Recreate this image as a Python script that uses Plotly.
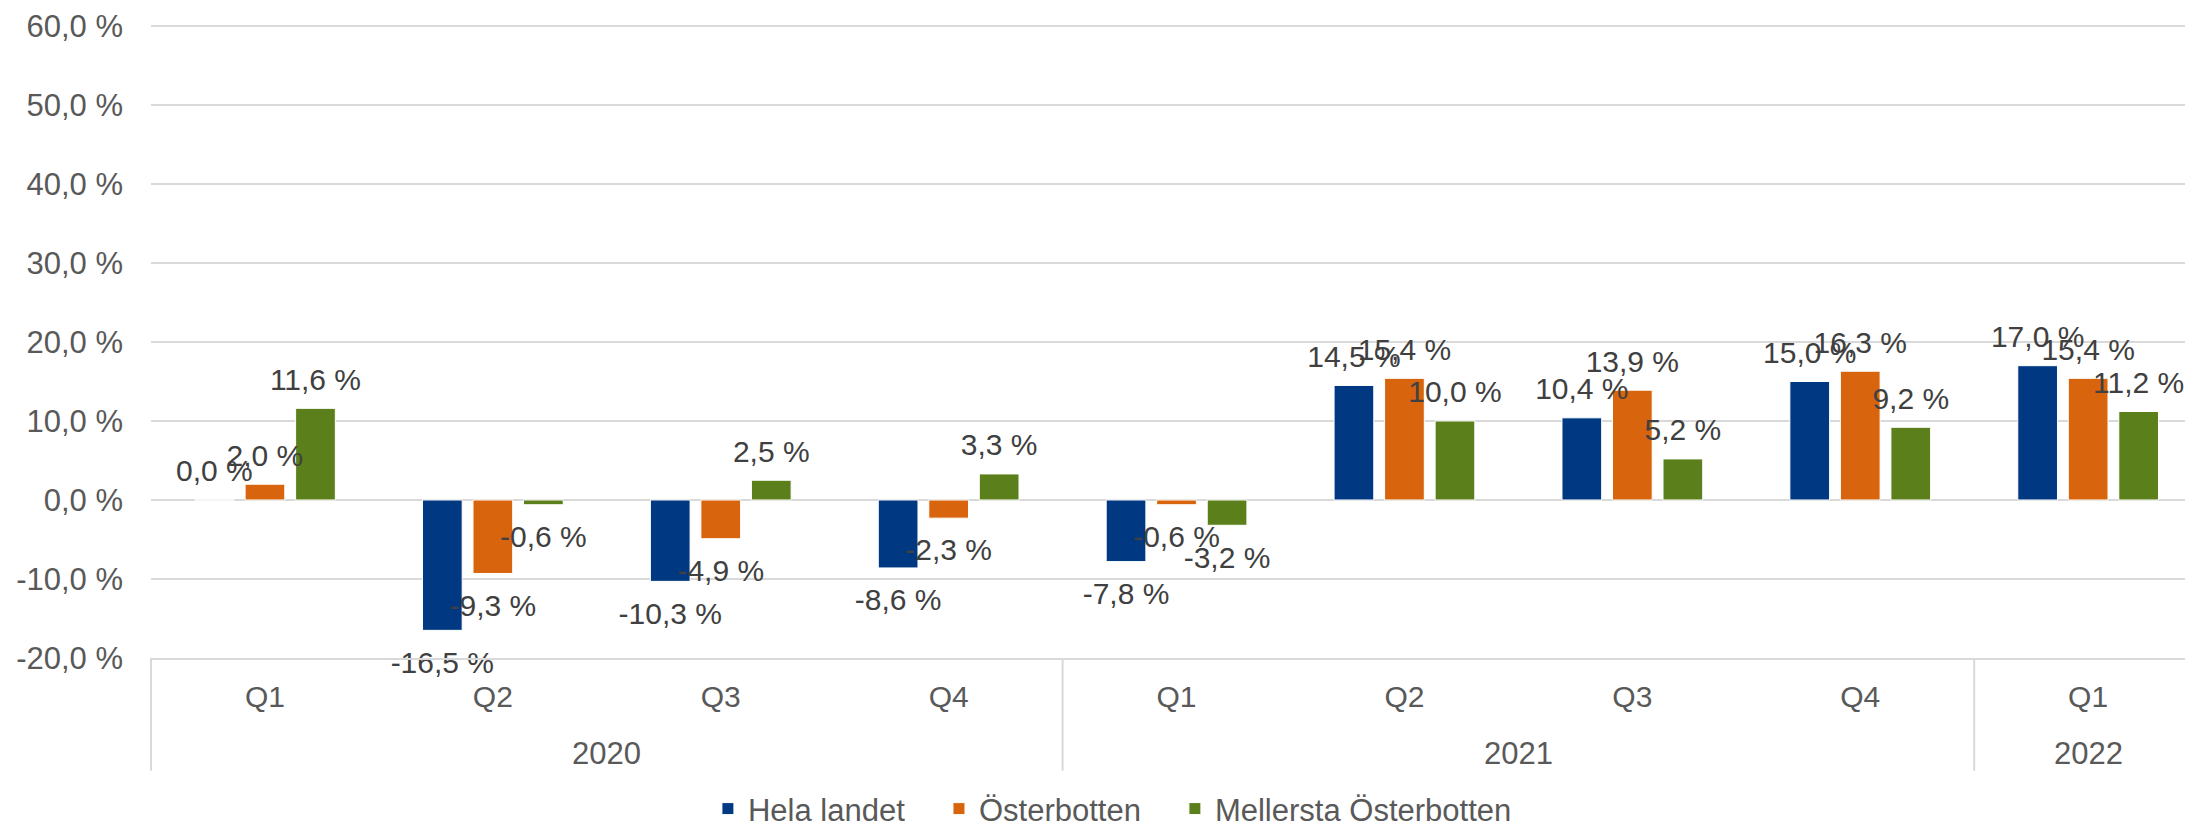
import plotly.graph_objects as go

years = ["2020", "2020", "2020", "2020", "2021", "2021", "2021", "2021", "2022"]
quarters = ["Q1", "Q2", "Q3", "Q4", "Q1", "Q2", "Q3", "Q4", "Q1"]

hela_landet = [0.0, -16.5, -10.3, -8.6, -7.8, 14.5, 10.4, 15.0, 17.0]
osterbotten = [2.0, -9.3, -4.9, -2.3, -0.6, 15.4, 13.9, 16.3, 15.4]
mellersta = [11.6, -0.6, 2.5, 3.3, -3.2, 10.0, 5.2, 9.2, 11.2]

series_names = ["Hela landet", "Österbotten", "Mellersta Österbotten"]
series_values = [hela_landet, osterbotten, mellersta]
series_colors = ["#003882", "#D9640E", "#5B7F1A"]

y_ticks = [-20, -10, 0, 10, 20, 30, 40, 50, 60]


def fmt(v):
    return f"{v:.1f} %".replace(".", ",")


FONT = "Liberation Sans, Arial, sans-serif"
TXT = "#595959"
GRID = "#D9D9D9"
BARGAP = 0.335

pos = list(range(len(quarters)))
legend_ids = ["legend", "legend2", "legend3"]
legend_x = [0.2738, 0.3874, 0.5034]

fig = go.Figure()
for name, vals, col, lid in zip(series_names, series_values, series_colors, legend_ids):
    fig.add_trace(go.Bar(
        name=name,
        x=pos,
        y=vals,
        marker=dict(color=col, line=dict(color="white", width=1)),
        legend=lid,
        hoverinfo="skip",
    ))

# data labels: grouped text-scatter aligned with the grouped bars
for name, vals in zip(series_names, series_values):
    fig.add_trace(go.Scatter(
        x=pos,
        y=vals,
        mode="markers+text",
        text=[fmt(v) for v in vals],
        textposition=["bottom center" if v < 0 else "top center" for v in vals],
        marker=dict(size=[30 if v < 0 else 16 for v in vals], opacity=0),
        textfont=dict(family=FONT, size=30, color="#404040"),
        showlegend=False,
        cliponaxis=False,
        hoverinfo="skip",
    ))

# year groups: dividers and labels
groups = []
for i, y in enumerate(years):
    if not groups or groups[-1][0] != y:
        groups.append([y, i, i])
    else:
        groups[-1][2] = i

x_range = [-0.5, 8.425]
shapes = []
annotations = []
for y, a, b in groups:
    left = a - 0.5
    if left <= x_range[0]:
        shapes.append(dict(type="line", xref="paper", yref="paper", x0=0, x1=0,
                           y0=0, y1=-0.178, line=dict(color=GRID, width=2)))
    else:
        shapes.append(dict(type="line", xref="x", yref="paper", x0=left, x1=left,
                           y0=0, y1=-0.178, line=dict(color=GRID, width=2)))
    annotations.append(dict(text=y, x=(a + b) / 2, xref="x", y=-0.15, yref="paper",
                            yanchor="middle", xanchor="center", showarrow=False,
                            font=dict(family=FONT, size=31, color=TXT)))

legend_common = dict(
    orientation="h",
    xanchor="left",
    y=-0.2381, yanchor="middle",
    font=dict(family=FONT, size=31, color=TXT),
    bgcolor="rgba(0,0,0,0)",
)

fig.update_layout(
    width=2185,
    height=825,
    margin=dict(l=151, r=0, t=24, b=167, autoexpand=False),
    paper_bgcolor="white",
    plot_bgcolor="white",
    barmode="group",
    bargap=BARGAP,
    bargroupgap=0.214,
    scattermode="group",
    scattergap=BARGAP,
    font=dict(family=FONT, size=30, color=TXT),
    showlegend=True,
    legend=dict(x=legend_x[0], **legend_common),
    legend2=dict(x=legend_x[1], **legend_common),
    legend3=dict(x=legend_x[2], **legend_common),
    shapes=shapes,
    annotations=annotations,
)

fig.update_yaxes(
    range=[-20, 60.25],
    tickvals=y_ticks,
    ticktext=[fmt(v) for v in y_ticks],
    showgrid=True,
    gridcolor=GRID,
    gridwidth=2,
    zeroline=True,
    zerolinecolor=GRID,
    zerolinewidth=2,
    showline=False,
    ticks="",
    ticklabelstandoff=27,
    automargin=False,
    tickfont=dict(family=FONT, size=31, color=TXT),
)

fig.update_xaxes(
    range=x_range,
    tickvals=pos,
    ticktext=quarters,
    showgrid=False,
    zeroline=False,
    showline=True,
    linecolor=GRID,
    linewidth=2,
    ticks="",
    ticklabelstandoff=11,
    automargin=False,
    tickfont=dict(family=FONT, size=30, color=TXT),
)

fig.write_html("out.html", config={"displayModeBar": False},
               post_script="document.body.style.margin='0';document.body.style.overflow='hidden';")
